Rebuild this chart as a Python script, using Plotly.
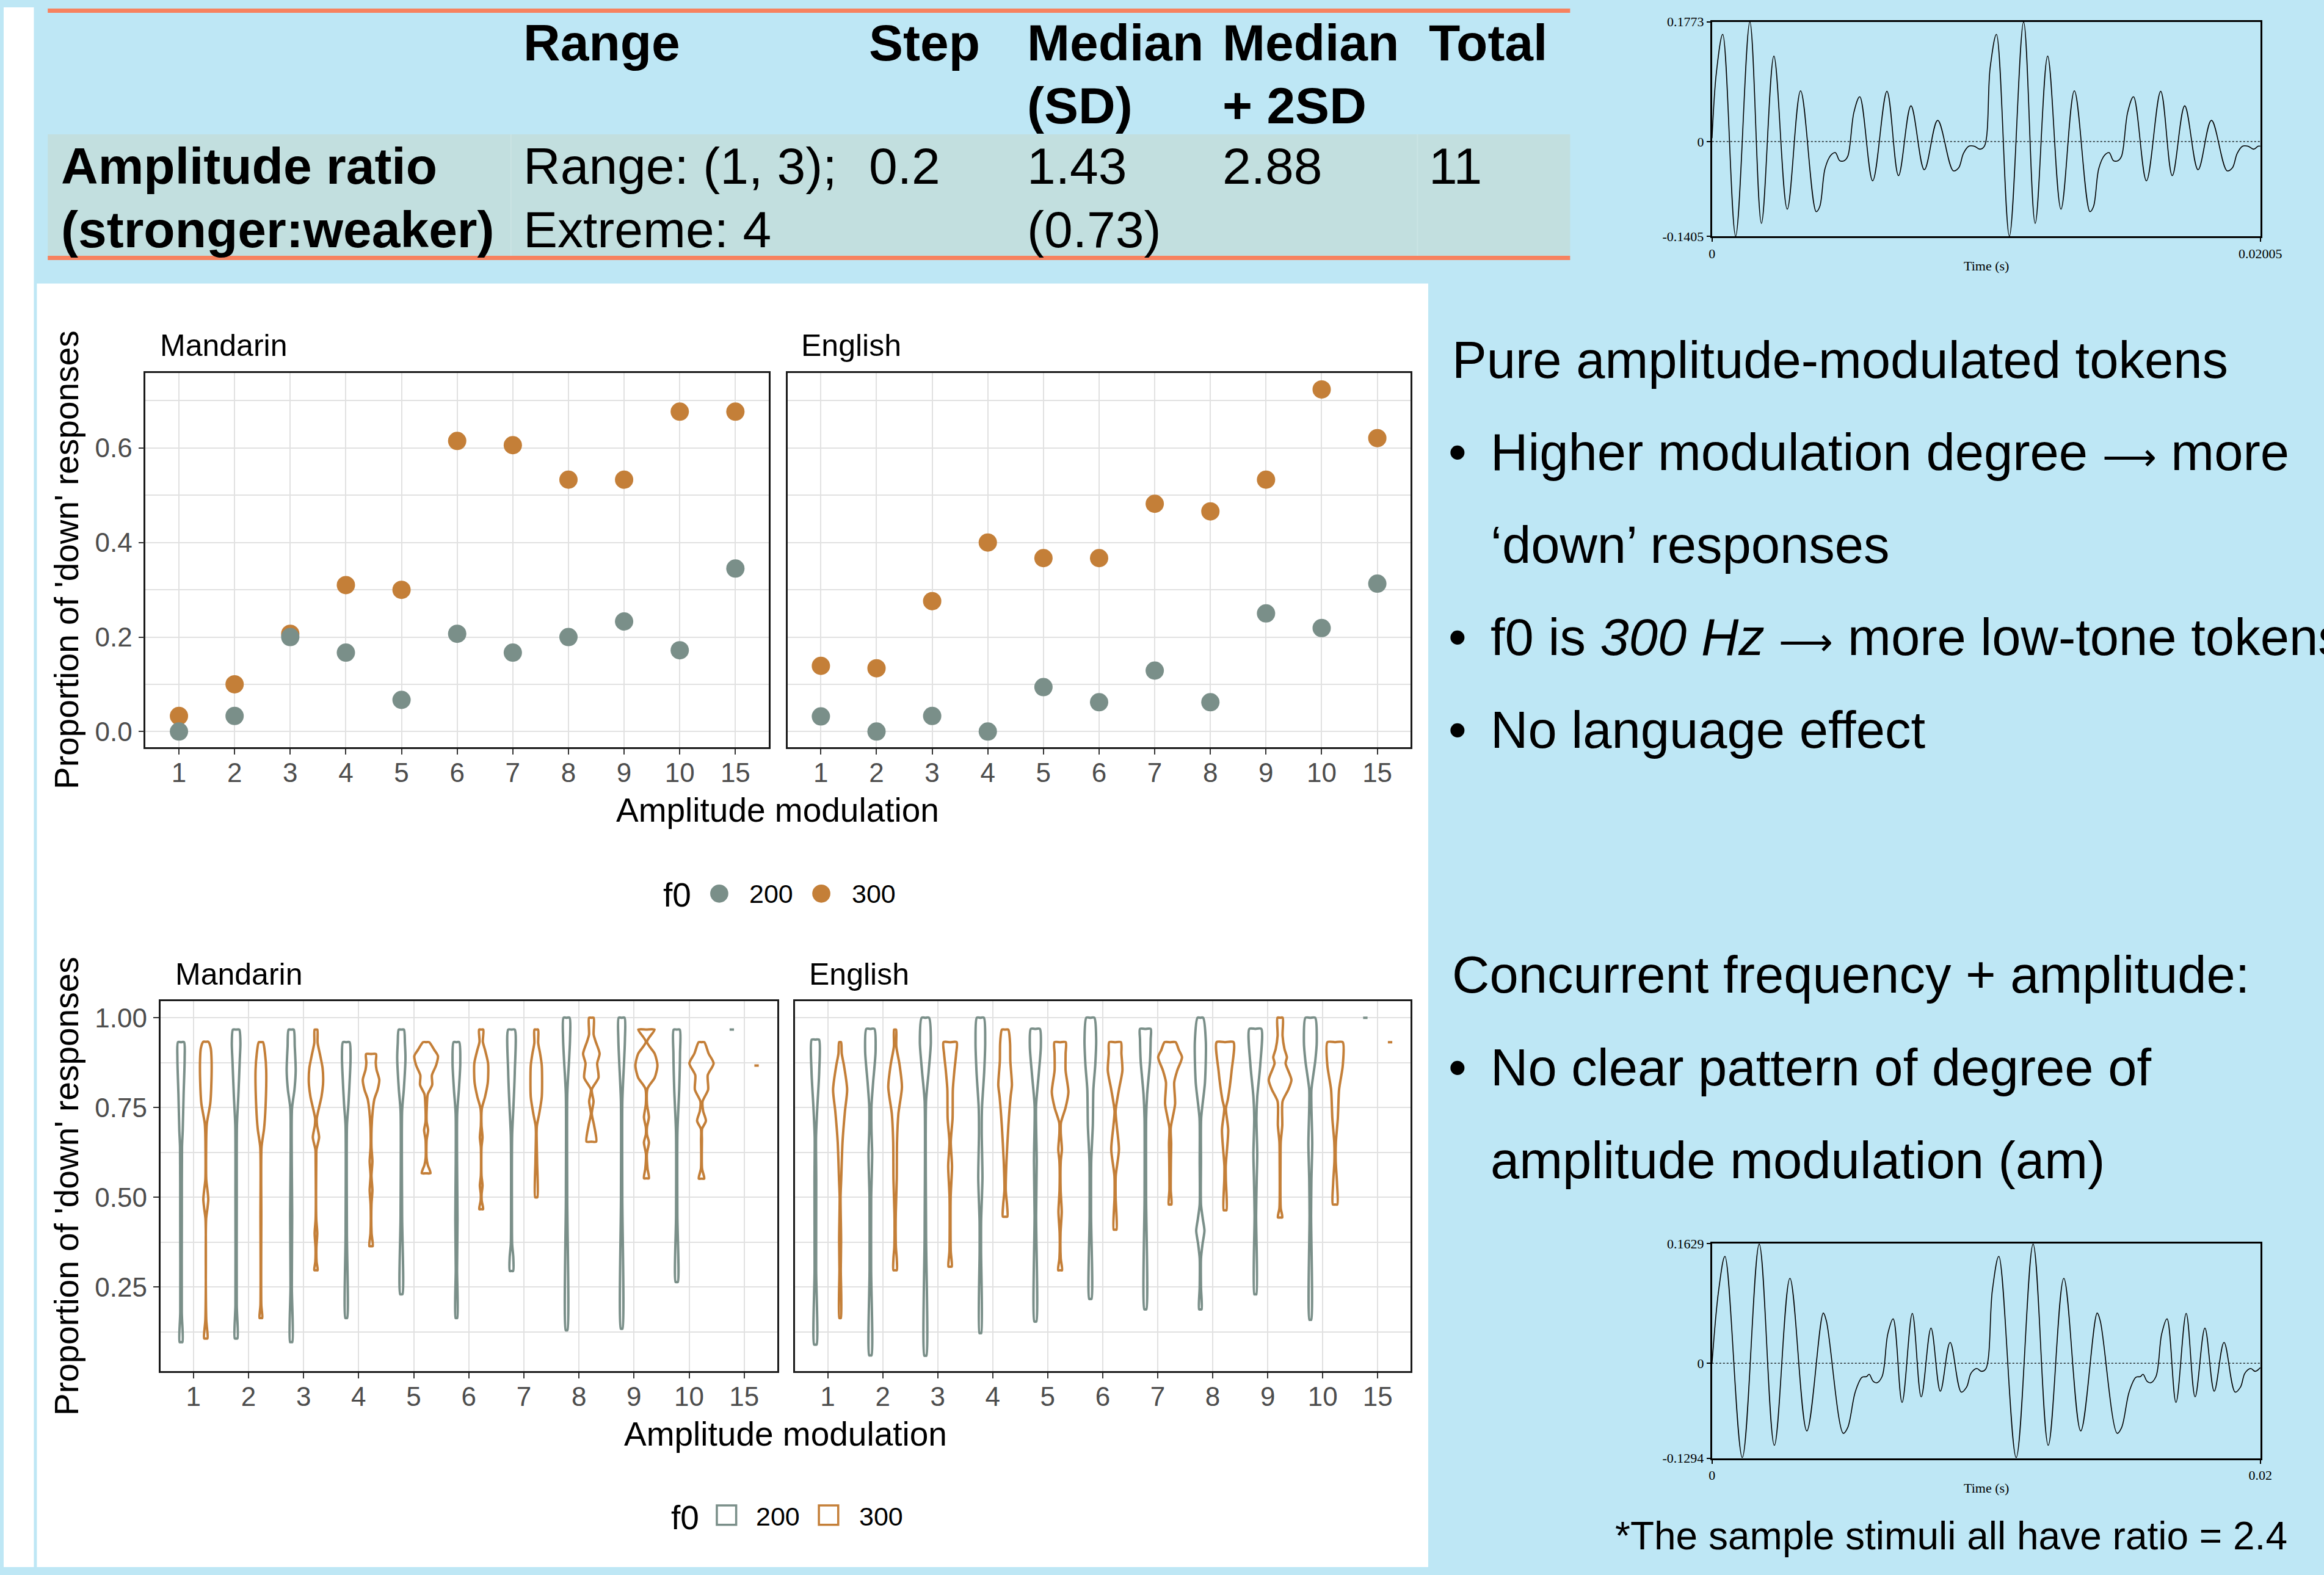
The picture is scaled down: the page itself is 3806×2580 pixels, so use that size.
import plotly.graph_objects as go

W, H = 3806, 2580

# ---------------- data ----------------
AM_LEVELS = ['1', '2', '3', '4', '5', '6', '7', '8', '9', '10', '15']
F0_LEVELS = ['200', '300']

# Pure amplitude-modulated tokens: proportion of 'down' responses
MAN_200 = [0.000, 0.033, 0.200, 0.167, 0.067, 0.207, 0.167, 0.200, 0.233, 0.172, 0.345]
MAN_300 = [0.033, 0.100, 0.207, 0.310, 0.300, 0.615, 0.606, 0.533, 0.533, 0.677, 0.677]
ENG_200 = [0.032, 0.000, 0.033, 0.000, 0.094, 0.062, 0.129, 0.062, 0.250, 0.219, 0.313]
ENG_300 = [0.139, 0.134, 0.276, 0.400, 0.367, 0.367, 0.482, 0.466, 0.533, 0.724, 0.621]

# Concurrent frequency + amplitude: violin density profiles (proportion, half-width), bottom -> top
MAN_200_VIOLIN = [
    [(0.097, 0.025), (0.18, 0.014), (0.45, 0.015), (0.64, 0.018), (0.687, 0.031), (0.787, 0.047), (0.887, 0.066), (0.932, 0.055)],
    [(0.107, 0.024), (0.20, 0.012), (0.50, 0.012), (0.70, 0.015), (0.78, 0.04), (0.88, 0.066), (0.93, 0.078), (0.967, 0.057)],
    [(0.097, 0.02), (0.25, 0.012), (0.45, 0.018), (0.60, 0.011), (0.747, 0.015), (0.80, 0.06), (0.853, 0.082), (0.92, 0.065), (0.967, 0.046)],
    [(0.164, 0.016), (0.40, 0.012), (0.70, 0.013), (0.76, 0.04), (0.85, 0.07), (0.89, 0.078), (0.932, 0.06)],
    [(0.23, 0.02), (0.45, 0.014), (0.74, 0.014), (0.80, 0.045), (0.887, 0.075), (0.93, 0.065), (0.967, 0.047)],
    [(0.164, 0.015), (0.30, 0.012), (0.44, 0.02), (0.60, 0.012), (0.733, 0.014), (0.80, 0.045), (0.873, 0.07), (0.932, 0.051)],
    [(0.295, 0.03), (0.333, 0.033), (0.37, 0.012), (0.45, 0.008), (0.673, 0.012), (0.75, 0.035), (0.85, 0.06), (0.967, 0.06)],
    [(0.13, 0.015), (0.50, 0.012), (0.787, 0.013), (0.88, 0.045), (0.94, 0.063), (1.0, 0.055)],
    [(0.134, 0.015), (0.50, 0.012), (0.767, 0.013), (0.88, 0.045), (0.94, 0.06), (1.0, 0.053)],
    [(0.264, 0.02), (0.45, 0.012), (0.68, 0.013), (0.80, 0.045), (0.90, 0.06), (0.967, 0.055)],
    [(0.967, 0.04)],
]
MAN_300_VIOLIN = [
    [(0.107, 0.03), (0.16, 0.008), (0.44, 0.006), (0.47, 0.03), (0.494, 0.045), (0.52, 0.03), (0.55, 0.008), (0.68, 0.01), (0.707, 0.02), (0.76, 0.08), (0.80, 0.097), (0.88, 0.105), (0.915, 0.09), (0.933, 0.047)],
    [(0.164, 0.024), (0.20, 0.008), (0.45, 0.008), (0.64, 0.012), (0.69, 0.057), (0.75, 0.084), (0.853, 0.097), (0.90, 0.075), (0.932, 0.038)],
    [(0.297, 0.03), (0.32, 0.012), (0.36, 0.008), (0.40, 0.024), (0.44, 0.006), (0.60, 0.006), (0.633, 0.01), (0.667, 0.057), (0.70, 0.02), (0.72, 0.015), (0.78, 0.10), (0.82, 0.13), (0.86, 0.12), (0.90, 0.07), (0.93, 0.03), (0.967, 0.024)],
    [(0.364, 0.03), (0.40, 0.01), (0.48, 0.008), (0.52, 0.025), (0.56, 0.008), (0.60, 0.025), (0.64, 0.008), (0.693, 0.01), (0.74, 0.03), (0.773, 0.06), (0.80, 0.12), (0.827, 0.15), (0.855, 0.10), (0.875, 0.085), (0.899, 0.09)],
    [(0.567, 0.08), (0.59, 0.03), (0.61, 0.008), (0.66, 0.01), (0.687, 0.036), (0.71, 0.01), (0.76, 0.015), (0.787, 0.03), (0.813, 0.11), (0.84, 0.105), (0.867, 0.18), (0.893, 0.215), (0.91, 0.15), (0.932, 0.055)],
    [(0.467, 0.035), (0.49, 0.01), (0.51, 0.008), (0.533, 0.024), (0.56, 0.006), (0.64, 0.006), (0.667, 0.024), (0.70, 0.006), (0.747, 0.012), (0.78, 0.07), (0.82, 0.12), (0.873, 0.125), (0.91, 0.07), (0.933, 0.03), (0.967, 0.038)],
    [(0.50, 0.02), (0.60, 0.015), (0.68, 0.006), (0.70, 0.012), (0.73, 0.05), (0.78, 0.1), (0.867, 0.1), (0.90, 0.07), (0.93, 0.035), (0.967, 0.033)],
    [(0.655, 0.088), (0.70, 0.05), (0.733, 0.008), (0.767, 0.04), (0.80, 0.008), (0.833, 0.13), (0.873, 0.106), (0.90, 0.15), (0.933, 0.08), (0.953, 0.042), (1.0, 0.042)],
    [(0.553, 0.045), (0.58, 0.02), (0.62, 0.008), (0.653, 0.045), (0.675, 0.01), (0.695, 0.01), (0.723, 0.045), (0.76, 0.01), (0.803, 0.02), (0.833, 0.15), (0.867, 0.2), (0.90, 0.15), (0.933, 0.01), (0.967, 0.148)],
    [(0.552, 0.05), (0.58, 0.01), (0.66, 0.008), (0.69, 0.01), (0.713, 0.08), (0.74, 0.03), (0.767, 0.02), (0.80, 0.12), (0.84, 0.113), (0.873, 0.22), (0.90, 0.13), (0.932, 0.051)],
    [(0.867, 0.04)],
]
ENG_200_VIOLIN = [
    [(0.09, 0.022), (0.30, 0.014), (0.55, 0.016), (0.667, 0.012), (0.75, 0.035), (0.85, 0.07), (0.939, 0.066)],
    [(0.06, 0.02), (0.30, 0.014), (0.50, 0.015), (0.56, 0.025), (0.62, 0.033), (0.69, 0.02), (0.753, 0.02), (0.82, 0.05), (0.907, 0.095), (0.969, 0.073)],
    [(0.059, 0.018), (0.40, 0.013), (0.767, 0.013), (0.85, 0.06), (0.933, 0.1), (1.0, 0.066)],
    [(0.122, 0.016), (0.35, 0.013), (0.433, 0.014), (0.553, 0.038), (0.68, 0.025), (0.75, 0.03), (0.85, 0.07), (0.933, 0.088), (1.0, 0.064)],
    [(0.154, 0.018), (0.45, 0.014), (0.60, 0.025), (0.753, 0.013), (0.84, 0.06), (0.92, 0.1), (0.969, 0.082)],
    [(0.217, 0.02), (0.45, 0.013), (0.60, 0.016), (0.70, 0.045), (0.80, 0.055), (0.87, 0.09), (0.94, 0.106), (1.0, 0.073)],
    [(0.188, 0.018), (0.50, 0.014), (0.72, 0.015), (0.787, 0.033), (0.88, 0.085), (0.94, 0.097), (0.969, 0.097)],
    [(0.188, 0.022), (0.25, 0.012), (0.33, 0.012), (0.37, 0.04), (0.407, 0.075), (0.44, 0.045), (0.48, 0.012), (0.60, 0.012), (0.72, 0.015), (0.82, 0.084), (0.933, 0.1), (1.0, 0.051)],
    [(0.23, 0.018), (0.45, 0.014), (0.55, 0.025), (0.62, 0.035), (0.72, 0.02), (0.78, 0.035), (0.87, 0.09), (0.969, 0.108)],
    [(0.159, 0.016), (0.45, 0.014), (0.55, 0.02), (0.65, 0.035), (0.75, 0.02), (0.80, 0.02), (0.88, 0.09), (0.933, 0.117), (1.0, 0.088)],
    [(1.0, 0.04)],
]
ENG_300_VIOLIN = [
    [(0.164, 0.014), (0.30, 0.012), (0.38, 0.018), (0.50, 0.008), (0.55, 0.02), (0.654, 0.044), (0.74, 0.088), (0.80, 0.128), (0.867, 0.07), (0.90, 0.03), (0.932, 0.018)],
    [(0.297, 0.03), (0.33, 0.03), (0.36, 0.015), (0.40, 0.01), (0.454, 0.012), (0.55, 0.03), (0.654, 0.035), (0.733, 0.06), (0.807, 0.124), (0.87, 0.08), (0.92, 0.022), (0.967, 0.018)],
    [(0.307, 0.03), (0.35, 0.012), (0.50, 0.01), (0.587, 0.035), (0.654, 0.012), (0.72, 0.045), (0.80, 0.05), (0.853, 0.078), (0.90, 0.11), (0.932, 0.119)],
    [(0.446, 0.04), (0.48, 0.035), (0.52, 0.012), (0.60, 0.025), (0.70, 0.06), (0.78, 0.1), (0.813, 0.124), (0.88, 0.095), (0.93, 0.09), (0.967, 0.057)],
    [(0.297, 0.035), (0.33, 0.012), (0.40, 0.008), (0.46, 0.03), (0.52, 0.01), (0.60, 0.012), (0.633, 0.033), (0.68, 0.012), (0.707, 0.015), (0.75, 0.1), (0.793, 0.151), (0.853, 0.10), (0.90, 0.10), (0.932, 0.102)],
    [(0.41, 0.025), (0.50, 0.01), (0.56, 0.012), (0.633, 0.07), (0.70, 0.03), (0.74, 0.01), (0.80, 0.07), (0.853, 0.133), (0.90, 0.115), (0.932, 0.106)],
    [(0.48, 0.025), (0.52, 0.012), (0.60, 0.015), (0.65, 0.02), (0.693, 0.012), (0.76, 0.091), (0.82, 0.075), (0.853, 0.13), (0.89, 0.217), (0.91, 0.16), (0.932, 0.1)],
    [(0.464, 0.025), (0.55, 0.014), (0.587, 0.012), (0.687, 0.057), (0.747, 0.015), (0.773, 0.051), (0.853, 0.119), (0.932, 0.153)],
    [(0.444, 0.04), (0.47, 0.012), (0.60, 0.008), (0.654, 0.012), (0.70, 0.04), (0.767, 0.045), (0.80, 0.15), (0.827, 0.206), (0.873, 0.1), (0.89, 0.124), (0.913, 0.08), (0.95, 0.045), (1.0, 0.047)],
    [(0.48, 0.04), (0.54, 0.035), (0.60, 0.012), (0.654, 0.015), (0.72, 0.05), (0.80, 0.073), (0.867, 0.14), (0.932, 0.139)],
    [(0.932, 0.04)],
]

# Sample stimulus waveforms (time in s, amplitude)
WAVE_A_T = [0.0, 0.000163, 0.000391, 0.000863, 0.001383, 0.001806, 0.002262, 0.00275, 0.003239, 0.003808,
            0.003938, 0.004134, 0.004345, 0.004508, 0.004671, 0.004833, 0.004964, 0.005191, 0.005403, 0.005875,
            0.006396, 0.006819, 0.007274, 0.007763, 0.008251, 0.00882, 0.009016, 0.009195, 0.00939, 0.009586,
            0.009797, 0.00996,
            0.010171, 0.0104, 0.010873, 0.011393, 0.011816, 0.012272, 0.01276, 0.013249, 0.013818,
            0.013948, 0.014144, 0.014355, 0.014518, 0.014681, 0.014843, 0.014974, 0.015201, 0.015413, 0.015885,
            0.016406, 0.016829, 0.017284, 0.017773, 0.018261, 0.01883, 0.019026, 0.019205, 0.0194, 0.019596,
            0.019807, 0.01997, 0.02005]
WAVE_A_V = [0.005, 0.1036, 0.1588, -0.14, 0.1773, -0.1211, 0.1266, -0.1002, 0.0752, -0.1038,
            -0.0963, -0.0396, -0.0202, -0.0164, -0.0283, -0.0283, -0.0217, 0.0439, 0.0663, -0.0581,
            0.0744, -0.0504, 0.0529, -0.0417, 0.0314, -0.0432, -0.039, -0.0173, -0.0068, -0.0068,
            -0.0113, -0.0068,
            0.1096, 0.1588, -0.14, 0.1773, -0.1211, 0.1266, -0.1002, 0.0752, -0.1038,
            -0.0963, -0.0396, -0.0202, -0.0164, -0.0283, -0.0283, -0.0217, 0.0439, 0.0663, -0.0581,
            0.0744, -0.0504, 0.0529, -0.0417, 0.0314, -0.0432, -0.039, -0.0173, -0.0068, -0.0068,
            -0.0113, -0.0068, -0.0068]
WAVE_A_YRANGE = [-0.1405, 0.1773]
WAVE_A_XRANGE = [0.0, 0.02005]

WAVE_B_T = [0.0, 0.000244, 0.000471, 0.001104, 0.001721, 0.002273, 0.002841, 0.003458, 0.004058, 0.004172,
            0.004789, 0.004951, 0.005227, 0.005471, 0.005633, 0.005731, 0.005877, 0.006007, 0.006201, 0.006412,
            0.006607, 0.006932, 0.007305, 0.00763, 0.007987, 0.008328, 0.008685, 0.009091, 0.009286, 0.009448,
            0.009659, 0.009822, 0.009984,
            0.010227, 0.010461, 0.011094, 0.011711, 0.012263, 0.012831, 0.013448, 0.014048, 0.014162,
            0.014779, 0.014941, 0.015217, 0.015461, 0.015623, 0.015721, 0.015867, 0.015997, 0.016191, 0.016402,
            0.016597, 0.016922, 0.017295, 0.01762, 0.017977, 0.018318, 0.018675, 0.019081, 0.019276, 0.019438,
            0.019649, 0.019812, 0.02]
WAVE_B_V = [0.0, 0.0999, 0.1456, -0.1285, 0.1623, -0.1118, 0.1157, -0.0922, 0.0684, 0.0574,
            -0.0954, -0.0875, -0.0387, -0.0192, -0.0182, -0.0151, -0.0245, -0.0267, -0.0182, 0.0401,
            0.0605, -0.0535, 0.0678, -0.0459, 0.0479, -0.0381, 0.0284, -0.0393, -0.0324, -0.0135,
            -0.0072, -0.011, -0.0078,
            0.0999, 0.1456, -0.1285, 0.1623, -0.1118, 0.1157, -0.0922, 0.0684, 0.0574,
            -0.0954, -0.0875, -0.0387, -0.0192, -0.0182, -0.0151, -0.0245, -0.0267, -0.0182, 0.0401,
            0.0605, -0.0535, 0.0678, -0.0459, 0.0479, -0.0381, 0.0284, -0.0393, -0.0324, -0.0135,
            -0.0072, -0.011, -0.006]
WAVE_B_YRANGE = [-0.1294, 0.1629]
WAVE_B_XRANGE = [0.0, 0.02]

# Table
TABLE_HEADER = ['', 'Range', 'Step', 'Median<br>(SD)', 'Median<br>+ 2SD', 'Total']
TABLE_ROW = ['Amplitude ratio<br>(stronger:weaker)', 'Range: (1, 3);<br>Extreme: 4', '0.2', '1.43<br>(0.73)', '2.88', '11']

ARROW = '<span style="font-size:62px">⟶</span>'
TEXT_BLOCK_1 = ['Pure amplitude-modulated tokens',
                [f'Higher modulation degree {ARROW} more', '‘down’ responses'],
                [f'f0 is <i>300 Hz</i> {ARROW} more low-tone tokens'],
                ['No language effect']]
TEXT_BLOCK_2 = ['Concurrent frequency + amplitude:',
                ['No clear pattern of degree of', 'amplitude modulation (am)']]
FOOTNOTE = '*The sample stimuli all have ratio = 2.4'

# ---------------- styles ----------------
FONT = 'Liberation Sans, Arial, sans-serif'
SERIF = 'Liberation Serif, Times New Roman, serif'
GREY = '#7A8F89'
ORANGE = '#C47F38'
BLUE_BG = '#BEE7F5'
ROW_BG = '#C2DFDF'
SALMON = '#F7825F'
GRID = '#E1E1E1'
TICKTXT = '#4D4D4D'
DODGE = 0.225
CAT_POS = list(range(1, len(AM_LEVELS) + 1))


def X(v):
    return v / W


def Y(v):
    return 1 - v / H


fig = go.Figure()

# ---------------- axes ----------------
def cat_xaxis(x0, x1, anchor):
    return dict(domain=[X(x0), X(x1)], anchor=anchor, range=[0.4, len(AM_LEVELS) + 0.6],
                tickmode='array', tickvals=CAT_POS, ticktext=AM_LEVELS,
                showgrid=True, gridcolor=GRID, gridwidth=2.4, zeroline=False,
                showline=True, mirror=True, linecolor='#1A1A1A', linewidth=2.8,
                ticks='outside', ticklen=9, tickwidth=2.4, tickcolor='#333333',
                tickfont=dict(family=FONT, size=44, color=TICKTXT), ticklabelstandoff=-8)


def prop_yaxis(y0, y1, anchor, rng, major, labels, minor_vals, show):
    d = dict(domain=[Y(y1), Y(y0)], anchor=anchor, range=rng,
             tickmode='array', tickvals=major, ticktext=labels,
             showgrid=True, gridcolor=GRID, gridwidth=2.4, zeroline=False,
             showline=True, mirror=True, linecolor='#1A1A1A', linewidth=2.8,
             minor=dict(tickmode='array', tickvals=minor_vals, showgrid=True,
                        gridcolor=GRID, gridwidth=1.6, ticks=''),
             tickfont=dict(family=FONT, size=44, color=TICKTXT), ticklabelstandoff=1)
    if show:
        d.update(ticks='outside', ticklen=9, tickwidth=2.4, tickcolor='#333333')
    else:
        d.update(ticks='', showticklabels=False)
    return d


def wave_axes(x0, x1, y0, y1, xanchor, yanchor, xr, yr, xlabels):
    xa = dict(domain=[X(x0), X(x1)], anchor=yanchor, range=xr, tickmode='array',
              tickvals=xr, ticktext=xlabels, showgrid=False, zeroline=False,
              showline=True, mirror=True, linecolor='black', linewidth=3,
              ticks='outside', ticklen=6, tickwidth=2, tickcolor='black',
              tickfont=dict(family=SERIF, size=22, color='black'))
    ya = dict(domain=[Y(y1), Y(y0)], anchor=xanchor, range=yr, tickmode='array',
              tickvals=[yr[0], 0, yr[1]], ticktext=[f'{yr[0]:g}', '0', f'{yr[1]:g}'],
              showgrid=False, zeroline=False,
              showline=True, mirror=True, linecolor='black', linewidth=3,
              ticks='outside', ticklen=6, tickwidth=2, tickcolor='black',
              tickfont=dict(family=SERIF, size=22, color='black'))
    return xa, ya


SC_Y = [-0.0333, 0.7586]
SC_MAJOR = [0.0, 0.2, 0.4, 0.6]
SC_LABELS = ['0.0', '0.2', '0.4', '0.6']
SC_MINOR = [0.1, 0.3, 0.5, 0.7]
VI_Y = [0.016, 1.046]
VI_MAJOR = [0.25, 0.5, 0.75, 1.0]
VI_LABELS = ['0.25', '0.50', '0.75', '1.00']
VI_MINOR = [0.125, 0.375, 0.625, 0.875]

xa5, ya5 = wave_axes(2829, 3737, 24, 379, 'x5', 'y5', WAVE_A_XRANGE, WAVE_A_YRANGE, ['0', '0.02005'])
xa6, ya6 = wave_axes(2829, 3737, 2045, 2400, 'x6', 'y6', WAVE_B_XRANGE, WAVE_B_YRANGE, ['0', '0.02'])

fig.update_layout(
    xaxis=cat_xaxis(235, 1267, 'y'),
    yaxis=prop_yaxis(605, 1224, 'x', SC_Y, SC_MAJOR, SC_LABELS, SC_MINOR, True),
    xaxis2=cat_xaxis(1298, 2330, 'y2'),
    yaxis2=prop_yaxis(605, 1224, 'x2', SC_Y, SC_MAJOR, SC_LABELS, SC_MINOR, False),
    xaxis3=cat_xaxis(259.5, 1281, 'y3'),
    yaxis3=prop_yaxis(1644, 2256, 'x3', VI_Y, VI_MAJOR, VI_LABELS, VI_MINOR, True),
    xaxis4=cat_xaxis(1310, 2330, 'y4'),
    yaxis4=prop_yaxis(1644, 2256, 'x4', VI_Y, VI_MAJOR, VI_LABELS, VI_MINOR, False),
    xaxis5=xa5, yaxis5=ya5, xaxis6=xa6, yaxis6=ya6,
)

# ---------------- scatter traces ----------------
for xa, ya, s200, s300 in [('x', 'y', MAN_200, MAN_300), ('x2', 'y2', ENG_200, ENG_300)]:
    for vals, col in [(s300, ORANGE), (s200, GREY)]:
        fig.add_trace(go.Scatter(x=CAT_POS, y=vals, xaxis=xa, yaxis=ya, mode='markers',
                                 marker=dict(size=30, color=col, line=dict(width=0)),
                                 showlegend=False, hoverinfo='skip'))


# ---------------- violin traces ----------------
def violin_xy(center, profile):
    ys = [p[0] for p in profile]
    ws = [p[1] for p in profile]
    if len(profile) == 1:
        return [center - ws[0], center + ws[0]], [ys[0], ys[0]]
    xr = [center + w for w in ws]
    xl = [center - w for w in reversed(ws)]
    x = [center] + xr + [center] + xl + [center]
    y = [ys[0]] + list(ys) + [ys[-1]] + list(reversed(ys)) + [ys[0]]
    return x, y


for xa, ya, v200, v300 in [('x3', 'y3', MAN_200_VIOLIN, MAN_300_VIOLIN),
                           ('x4', 'y4', ENG_200_VIOLIN, ENG_300_VIOLIN)]:
    for profiles, col, off in [(v200, GREY, -DODGE), (v300, ORANGE, DODGE)]:
        for pos, prof in zip(CAT_POS, profiles):
            vx, vy = violin_xy(pos + off, prof)
            fig.add_trace(go.Scatter(x=vx, y=vy, xaxis=xa, yaxis=ya, mode='lines',
                                     line=dict(color=col, width=4.0, shape='spline', smoothing=0.7),
                                     showlegend=False, hoverinfo='skip'))

# ---------------- waveforms ----------------
for xa, ya, tt, vv in [('x5', 'y5', WAVE_A_T, WAVE_A_V), ('x6', 'y6', WAVE_B_T, WAVE_B_V)]:
    fig.add_trace(go.Scatter(x=tt, y=vv, xaxis=xa, yaxis=ya, mode='lines',
                             line=dict(color='black', width=1.6, shape='spline', smoothing=1.0),
                             showlegend=False, hoverinfo='skip'))
    fig.add_shape(type='line', xref=f'{xa} domain', yref=ya, x0=0, x1=1, y0=0, y1=0,
                  line=dict(color='black', width=1.2, dash='dot'))


# ---------------- background shapes ----------------
def rect(x0, y0, x1, y1, fill, layer='below'):
    fig.add_shape(type='rect', xref='paper', yref='paper', x0=X(x0), x1=X(x1), y0=Y(y1), y1=Y(y0),
                  fillcolor=fill, line=dict(width=0), layer=layer)


rect(0, 0, 50, H, 'white')
rect(55, 457, 2359, H, 'white')
rect(73, 210, 2594, 411, ROW_BG)
rect(73, 2, 2594, 9, SALMON)
rect(73, 411, 2594, 418, SALMON)
for cx in [840, 2341]:
    fig.add_shape(type='line', xref='paper', yref='paper', x0=X(cx), x1=X(cx), y0=Y(411), y1=Y(210),
                  line=dict(color='#CAE4E4', width=2), layer='below')


# ---------------- text ----------------
def text(x, y, s, size, color='black', xanchor='left', family=FONT, angle=0):
    fig.add_annotation(x=X(x), y=Y(y), xref='paper', yref='paper', text=s, showarrow=False,
                       xanchor=xanchor, yanchor='middle', textangle=angle,
                       font=dict(size=size, color=color, family=family))


# table
COL_X = [93, 858, 1431, 1693, 2016, 2358]
HEAD_Y = [59, 163]
ROW_Y = [263, 368]
for cx, h, r in zip(COL_X, TABLE_HEADER, TABLE_ROW):
    for ly, line in zip(HEAD_Y, [t for t in h.split('<br>') if t]):
        text(cx, ly, f'<b>{line}</b>', 84)
    for ly, line in zip(ROW_Y, r.split('<br>')):
        s = f'<b>{line}</b>' if cx == COL_X[0] else line
        text(cx, ly, s, 84)

# strips
text(257, 559, 'Mandarin', 50)
text(1319, 559, 'English', 50)
text(282, 1600, 'Mandarin', 50)
text(1332, 1600, 'English', 50)

# axis titles
text(1282, 1328, 'Amplitude modulation', 55, xanchor='center')
text(1295, 2360, 'Amplitude modulation', 55, xanchor='center')
text(104, 914, "Proportion of 'down' responses", 55, xanchor='center', angle=-90)
text(104, 1950, "Proportion of 'down' responses", 55, xanchor='center', angle=-90)

# legends
text(1090, 1468, 'f0', 55)
text(1233, 1466, F0_LEVELS[0], 43)
text(1402, 1466, F0_LEVELS[1], 43)
for cx, col in [(1185, GREY), (1354, ORANGE)]:
    fig.add_shape(type='circle', xref='paper', yref='paper', x0=X(cx - 15), x1=X(cx + 15),
                  y0=Y(1466 + 15), y1=Y(1466 - 15), fillcolor=col, line=dict(width=0))
text(1103, 2498, 'f0', 55)
text(1244, 2496, F0_LEVELS[0], 43)
text(1415, 2496, F0_LEVELS[1], 43)
for cx, col in [(1197, GREY), (1366, ORANGE)]:
    fig.add_shape(type='rect', xref='paper', yref='paper', x0=X(cx - 16), x1=X(cx + 16),
                  y0=Y(2494 + 16), y1=Y(2494 - 16), fillcolor='rgba(0,0,0,0)',
                  line=dict(color=col, width=3.5))

# waveform axis titles
text(3283, 428, 'Time (s)', 22, xanchor='center', family=SERIF)
text(3283, 2449, 'Time (s)', 22, xanchor='center', family=SERIF)

# right-hand notes
BULLET_X, INDENT_X, HEAD_X = 2408, 2460, 2396
NOTE_SIZE = 85
y = 583
text(HEAD_X, y, TEXT_BLOCK_1[0], NOTE_SIZE)
for item in TEXT_BLOCK_1[1:]:
    y += 153
    text(BULLET_X, y, '•', NOTE_SIZE, xanchor='center')
    for k, line in enumerate(item):
        if k:
            y += 153
        text(INDENT_X, y, line, NOTE_SIZE)
y = 1600
text(HEAD_X, y, TEXT_BLOCK_2[0], NOTE_SIZE)
for item in TEXT_BLOCK_2[1:]:
    y += 153
    text(BULLET_X, y, '•', NOTE_SIZE, xanchor='center')
    for k, line in enumerate(item):
        if k:
            y += 154
        text(INDENT_X, y, line, NOTE_SIZE)
text(2666, 2528, FOOTNOTE, 64)

fig.update_layout(width=W, height=H, margin=dict(l=0, r=0, t=0, b=0),
                  paper_bgcolor=BLUE_BG, plot_bgcolor='rgba(0,0,0,0)', showlegend=False)

fig.write_html('out.html')
